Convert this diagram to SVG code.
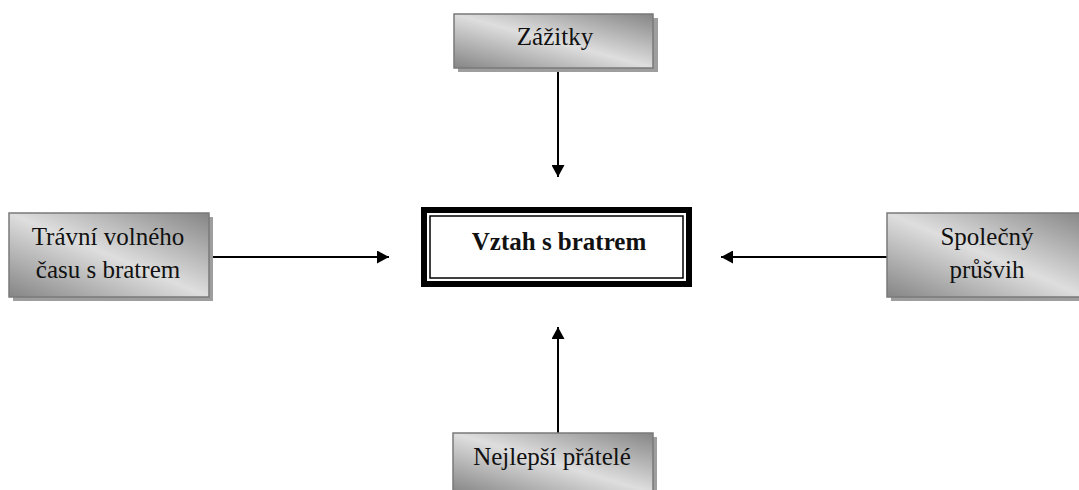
<svg xmlns="http://www.w3.org/2000/svg" width="1079" height="490" viewBox="0 0 1079 490">
<defs>
<linearGradient id="g" x1="0" y1="1" x2="1" y2="0">
<stop offset="0" stop-color="#858585"/>
<stop offset="0.5" stop-color="#dedede"/>
<stop offset="1" stop-color="#858585"/>
</linearGradient>
<marker id="ah" viewBox="0 0 12 13" refX="12" refY="6.5" markerWidth="12" markerHeight="13" markerUnits="userSpaceOnUse" orient="auto">
<path d="M0,0 L12,6.5 L0,13 Z" fill="#000"/>
</marker>
</defs>
<style>
.shadow{fill:#9e9e9e}
.box{fill:url(#g);stroke:#7a7a7a;stroke-width:1.5}
.t{font-family:"Liberation Serif","Times New Roman",serif;font-size:25px;fill:#111;text-anchor:middle}
.b{font-weight:bold}
.c{stroke:#000;stroke-width:2;fill:none;marker-end:url(#ah)}
</style>
<rect width="1079" height="490" fill="#fff"/>
<g id="connectors">
<line class="c" x1="558" y1="68" x2="558" y2="177"/>
<line class="c" x1="209" y1="257" x2="389" y2="257"/>
<line class="c" x1="887" y1="257" x2="721" y2="257"/>
<line class="c" x1="558" y1="433" x2="558" y2="327"/>
</g>
<g id="zazitky">
<rect class="shadow" x="458" y="18" width="200" height="54"/>
<rect class="box" x="454" y="14" width="199" height="54"/>
<text class="t" x="555" y="45">Zážitky</text>
</g>
<g id="travni">
<rect class="shadow" x="13" y="217" width="200" height="84"/>
<rect class="box" x="9" y="213" width="200" height="84"/>
<text class="t" x="108" y="245">Trávní volného</text>
<text class="t" x="108" y="278">času s bratrem</text>
</g>
<g id="spolecny">
<rect class="shadow" x="891" y="217" width="200" height="84"/>
<rect class="box" x="887" y="213" width="200" height="84"/>
<text class="t" x="987" y="245">Společný</text>
<text class="t" x="987" y="278">průšvih</text>
</g>
<g id="nejlepsi">
<rect class="shadow" x="457" y="437" width="200" height="60"/>
<rect class="box" x="453" y="433" width="200" height="60"/>
<text class="t" x="552" y="465">Nejlepší přátelé</text>
</g>
<g id="vztah">
<rect x="424" y="210" width="265" height="74" fill="#fff" stroke="#000" stroke-width="6"/>
<rect x="430" y="216" width="253" height="62" fill="none" stroke="#000" stroke-width="1.5"/>
<text class="t b" x="559" y="250">Vztah s bratrem</text>
</g>
</svg>
